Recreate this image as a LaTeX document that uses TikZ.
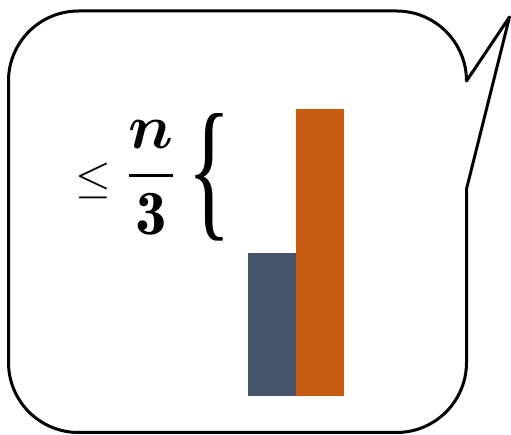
\documentclass[tikz,border=0pt]{standalone}
\usepackage{amsmath,amssymb,bm}
\usepackage{fontspec}
\newfontfamily\bracefont{Liberation Serif}
\definecolor{barblue}{HTML}{44546A}
\definecolor{barorange}{HTML}{C55A11}
\tikzset{
  bubble/.style={draw=black, line width=3pt, line join=round, fill=white},
  mathtext/.style={inner sep=0pt, anchor=center}
}
\begin{document}
\begin{tikzpicture}[x=1pt,y=1pt]
\useasboundingbox (0,0) rectangle (511,435);
% speech bubble
\draw[bubble] (8.5,354) arc[start angle=180,end angle=90,radius=70pt]
  -- (396.5,424) arc[start angle=90,end angle=0,radius=70pt]
  -- (509.5,418) -- (466.5,246) -- (466.5,72.5)
  arc[start angle=0,end angle=-90,radius=70pt]
  -- (78.5,2.5) arc[start angle=270,end angle=180,radius=70pt] -- cycle;
% bars
\fill[barblue] (248,39) rectangle (296,182);
\fill[barorange] (296,39) rectangle (344,326);
% text
\node[mathtext] (leq) at (93,254) {\scalebox{4.6}{$\leq$}};
\node[mathtext] (frac) at (151,257) {\scalebox{6.3}{$\dfrac{\bm{n}}{\mathbf{3}}$}};
\node[mathtext] (brace) at (209.5,257.5) {\resizebox{44pt}{107pt}{\bracefont\{}};
\end{tikzpicture}
\end{document}
